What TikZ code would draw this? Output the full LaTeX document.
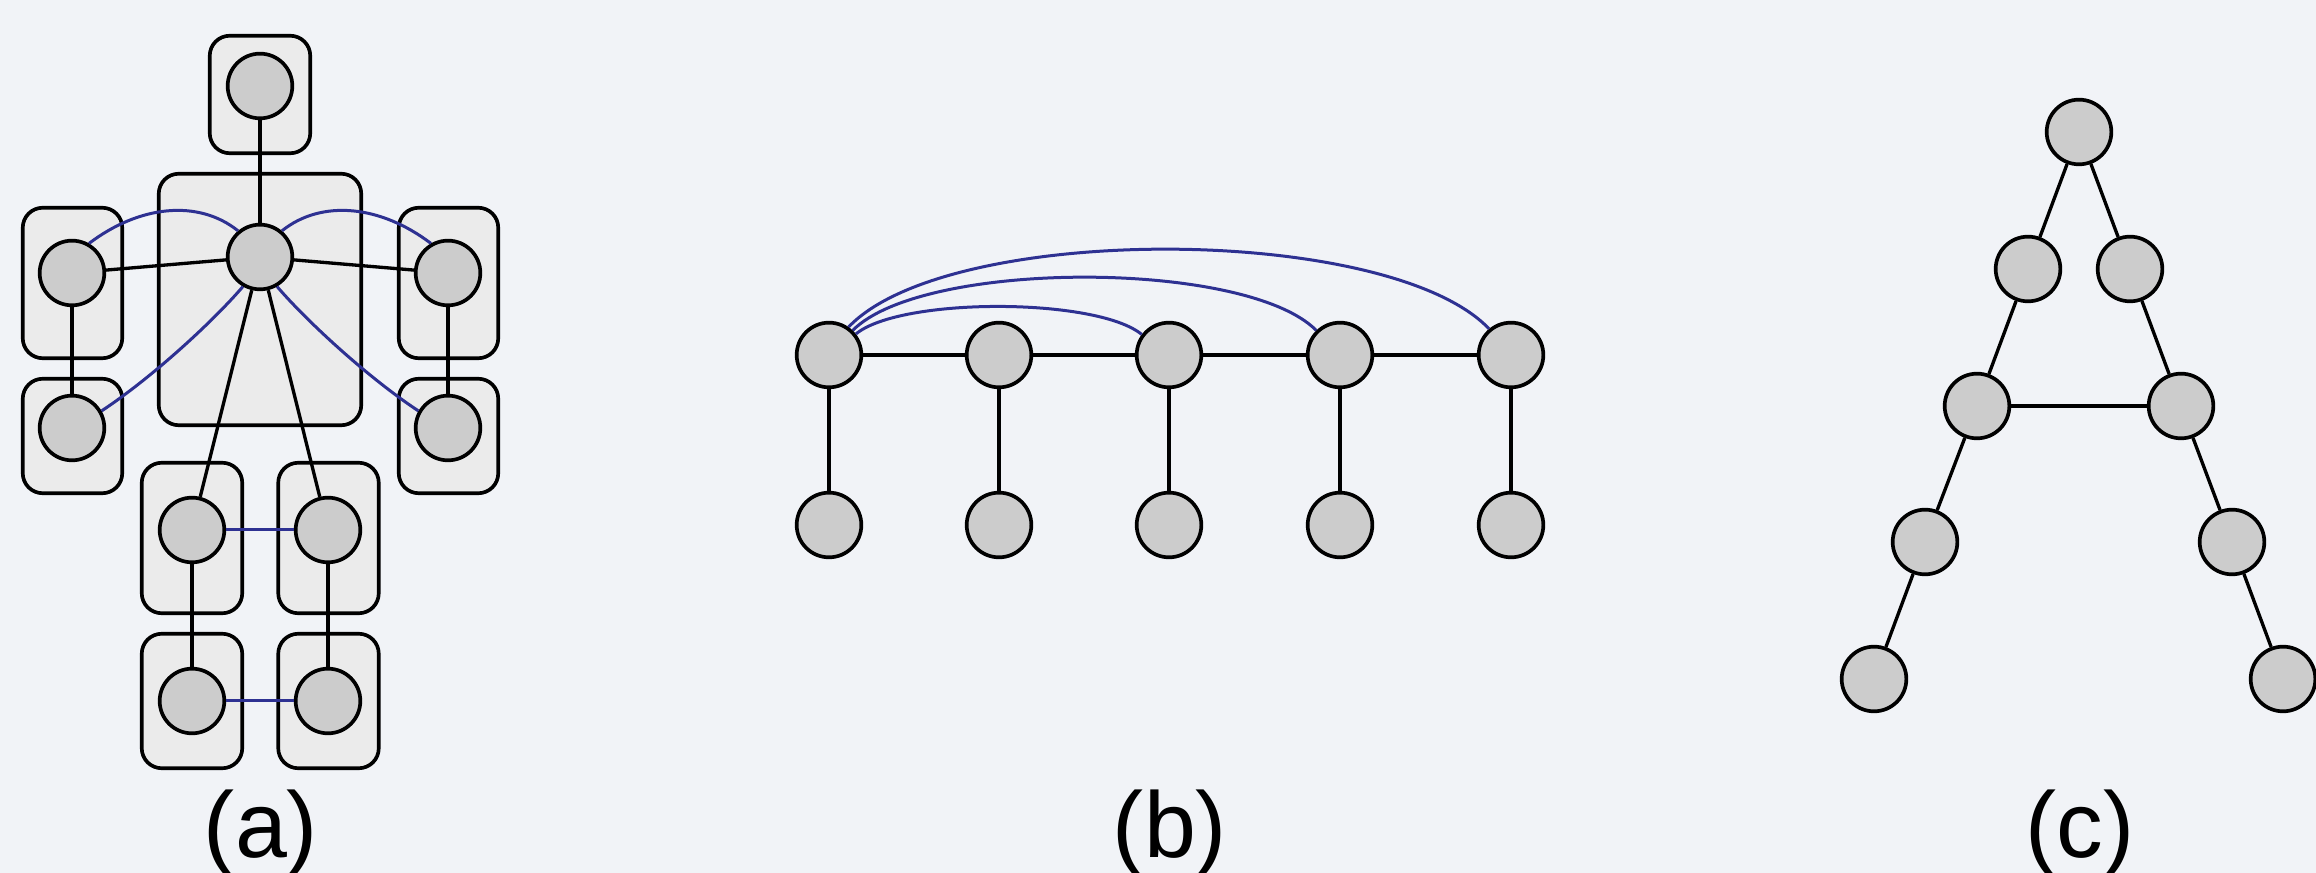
\documentclass[tikz,border=0pt]{standalone}
\usepackage{fontspec}
\setmainfont{Liberation Sans}
\definecolor{bg}{RGB}{241,243,247}
\definecolor{boxfill}{RGB}{235,235,235}
\definecolor{nodefill}{RGB}{204,204,204}
\definecolor{edgeblue}{RGB}{46,49,146}
\begin{document}
\begin{tikzpicture}[x=0.3pt,y=-0.3pt,
  vtx/.style={circle,draw=black,fill=nodefill,line width=1.1pt,minimum size=19.4pt,inner sep=0pt},
  grp/.style={rectangle,rounded corners=6pt,draw=black,fill=boxfill,line width=1.1pt,inner sep=0pt},
  blk/.style={draw=black,line width=1pt},
  blu/.style={draw=edgeblue,line width=0.9pt},
  lbl/.style={font=\fontsize{28}{34}\selectfont,anchor=base,inner sep=0pt}]
\fill[bg] (0,0) rectangle (2316,873);
\useasboundingbox (0,0) rectangle (2316,873);
% ---------- (a) groups ----------
\node[grp,minimum width=30.15pt,minimum height=35.25pt] (gtop) at (260,94.5) {};
\node[grp,minimum width=60.75pt,minimum height=75.45pt] (gmid) at (260,299.5) {};
\node[grp,minimum width=29.85pt,minimum height=45.15pt] (gl1) at (72.5,283) {};
\node[grp,minimum width=29.85pt,minimum height=34.35pt] (gl2) at (72.5,436) {};
\node[grp,minimum width=29.85pt,minimum height=45.15pt] (gr1) at (448.5,283) {};
\node[grp,minimum width=29.85pt,minimum height=34.35pt] (gr2) at (448.5,436) {};
\node[grp,minimum width=30.15pt,minimum height=45.15pt] (gm1) at (192,538) {};
\node[grp,minimum width=30.15pt,minimum height=45.15pt] (gm2) at (328.5,538) {};
\node[grp,minimum width=30.15pt,minimum height=40.35pt] (gm3) at (192,701) {};
\node[grp,minimum width=30.15pt,minimum height=40.35pt] (gm4) at (328.5,701) {};
% ---------- (a) vertices ----------
\node[vtx] (at) at (260,86) {};
\node[vtx] (ac) at (260,257) {};
\node[vtx] (al1) at (72,273) {};
\node[vtx] (al2) at (72,428) {};
\node[vtx] (ar1) at (448,273) {};
\node[vtx] (ar2) at (448,428) {};
\node[vtx] (am1) at (192,530) {};
\node[vtx] (am2) at (328,530) {};
\node[vtx] (am3) at (192,701) {};
\node[vtx] (am4) at (328,701) {};
\draw[blk] (at) -- (ac);
\draw[blk] (ac) -- (al1);
\draw[blk] (ac) -- (ar1);
\draw[blk] (al1) -- (al2);
\draw[blk] (ar1) -- (ar2);
\draw[blk] (ac) -- (am1);
\draw[blk] (ac) -- (am2);
\draw[blk] (am1) -- (am3);
\draw[blk] (am2) -- (am4);
\draw[blu] (am1) -- (am2);
\draw[blu] (am3) -- (am4);
\draw[blu] (al1.60) .. controls +(50,-38) and +(-40,-32) .. (ac.130);
\draw[blu] (ar1.120) .. controls +(-50,-38) and +(40,-32) .. (ac.50);
\draw[blu] (ac.240) .. controls +(-30,35) and +(50,-33) .. (al2.30);
\draw[blu] (ac.300) .. controls +(30,35) and +(-50,-33) .. (ar2.150);
\node[lbl] (la) at (261,858) {(a)};
% ---------- (b) ----------
\foreach \i/\x in {0/829,1/999,2/1169,3/1340,4/1511}{
  \node[vtx] (b\i) at (\x,355) {};
  \node[vtx] (bb\i) at (\x,525) {};
  \draw[blk] (b\i) -- (bb\i);
}
\draw[blk] (b0) -- (b1);
\draw[blk] (b1) -- (b2);
\draw[blk] (b2) -- (b3);
\draw[blk] (b3) -- (b4);
\draw[blu] (b0.38) .. controls +(45,-37) and +(-45,-37) .. (b2.143);
\draw[blu] (b0.46) .. controls +(70,-71) and +(-70,-71) .. (b3.134);
\draw[blu] (b0.55) .. controls +(100,-105) and +(-100,-105) .. (b4.130);
\node[lbl] (lb) at (1170,858) {(b)};
% ---------- (c) ----------
\node[vtx] (c1) at (2079,132) {};
\node[vtx] (c2l) at (2028,269) {};
\node[vtx] (c2r) at (2130,269) {};
\node[vtx] (c3l) at (1977,406) {};
\node[vtx] (c3r) at (2181,406) {};
\node[vtx] (c4l) at (1925,542) {};
\node[vtx] (c4r) at (2232,542) {};
\node[vtx] (c5l) at (1874,679) {};
\node[vtx] (c5r) at (2283,679) {};
\draw[blk] (c1) -- (c2l);
\draw[blk] (c1) -- (c2r);
\draw[blk] (c2l) -- (c3l);
\draw[blk] (c2r) -- (c3r);
\draw[blk] (c3l) -- (c3r);
\draw[blk] (c3l) -- (c4l);
\draw[blk] (c4l) -- (c5l);
\draw[blk] (c3r) -- (c4r);
\draw[blk] (c4r) -- (c5r);
\node[lbl] (lc) at (2080,858) {(c)};
\end{tikzpicture}
\end{document}
